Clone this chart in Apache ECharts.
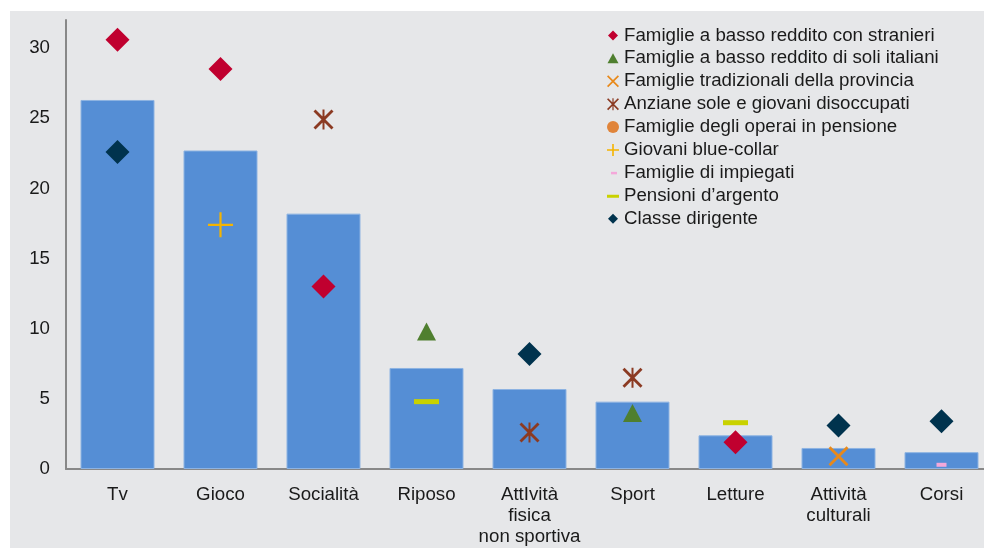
<!DOCTYPE html>
<html>
<head>
<meta charset="utf-8">
<script src="https://cdn.jsdelivr.net/npm/echarts@6/dist/echarts.min.js"></script>
<style>
html, body { margin: 0; padding: 0; background: #fff; overflow: hidden; }
#chart { width: 994px; height: 548px; }
</style>
</head>
<body>
<div id="chart"></div>
<script>
// categorie e valori
var categories = ['Tv', 'Gioco', 'Socialità', 'Riposo', 'AttIvità\nfisica\nnon sportiva', 'Sport', 'Letture', 'Attività\nculturali', 'Corsi']
var totale = [26.3, 22.7, 18.2, 7.2, 5.7, 4.8, 2.4, 1.5, 1.2]

var stranieri = [30.6, 28.5, 13.0, null, null, null, 1.9, null, null]
var soliItaliani = [null, null, null, 9.8, null, 4.0, null, null, null]
var tradizionali = [null, null, null, null, null, null, null, 0.9, null]
var anziane = [null, null, 24.9, null, 2.6, 6.5, null, null, null]
var operai = [null, null, null, null, null, null, null, null, null]
var blueCollar = [null, 17.4, null, null, null, null, null, null, null]
var impiegati = [null, null, null, null, null, null, null, null, 0.3]
var argento = [null, null, null, 4.8, null, null, 3.3, null, null]
var dirigente = [22.6, null, null, null, 8.2, null, null, 3.1, 3.4]

var yTicks = [0, 5, 10, 15, 20, 25, 30]

var xPath = 'path://M0,2 L2,0 L10,8 L18,0 L20,2 L12,10 L20,18 L18,20 L10,12 L2,20 L0,18 L8,10 Z'
var starPath = 'path://M0,2 L2,0 L10,8 L18,0 L20,2 L12,10 L20,18 L18,20 L10,12 L2,20 L0,18 L8,10 Z M9,0 L11,0 L11,20 L9,20 Z'
var plusPath = 'path://M11.5,0 h2.2 v11.5 h11.5 v2.2 h-11.5 v11.5 h-2.2 v-11.5 h-11.5 v-2.2 h11.5 Z'

var font = 'Liberation Sans'
var fs = 18.7

function scatter (name, data, color, symbol, size) {
    return {
        name: name,
        type: 'scatter',
        data: data,
        symbol: symbol,
        symbolSize: size,
        itemStyle: { color: color, opacity: 1 },
        z: 5
    }
}

var chart = echarts.init(document.getElementById('chart'))
chart.setOption({
    animation: false,
    backgroundColor: '#fff',
    graphic: [{
        type: 'rect',
        shape: { x: 10, y: 11, width: 984, height: 537 },
        style: { fill: '#E6E7E9' },
        z: -10
    }],
    grid: {
        left: 66,
        top: 20,
        right: 1,
        height: 449,
        containLabel: false
    },
    legend: {
        orient: 'vertical',
        left: 602,
        top: 19,
        itemWidth: 12,
        itemHeight: 12,
        itemGap: 0,
        textStyle: { fontFamily: font, fontSize: fs, color: '#1a1a1a', lineHeight: 22.9 },
        data: [
            { name: 'Famiglie a basso reddito con stranieri', icon: 'path://M0,0 M12,12 M6,1 L11,6 L6,11 L1,6 Z' },
            { name: 'Famiglie a basso reddito di soli italiani', icon: 'path://M0,0 M12,12 M6,1 L11.5,11 L0.5,11 Z' },
            { name: 'Famiglie tradizionali della provincia', icon: xPath },
            { name: 'Anziane sole e giovani disoccupati', icon: starPath },
            { name: 'Famiglie degli operai in pensione', icon: 'circle' },
            { name: 'Giovani blue-collar', icon: 'path://M0,0 M12,12 M5.2,0 h1.6 v5.2 h5.2 v1.6 h-5.2 v5.2 h-1.6 v-5.2 h-5.2 v-1.6 h5.2 Z' },
            { name: 'Famiglie di impiegati', icon: 'path://M0,0 M12,12 M4,5 h6 v2.5 h-6 Z' },
            { name: 'Pensioni d\u2019argento', icon: 'path://M0,0 M12,12 M0,5 h12 v3 h-12 Z' },
            { name: 'Classe dirigente', icon: 'path://M0,0 M12,12 M6,1 L11,6 L6,11 L1,6 Z' }
        ]
    },
    xAxis: {
        type: 'category',
        data: categories,
        boundaryGap: true,
        axisLine: { lineStyle: { color: '#888', width: 2 } },
        axisTick: { show: false },
        axisLabel: {
            interval: 0,
            margin: 15,
            fontFamily: font,
            fontSize: fs,
            color: '#1a1a1a',
            lineHeight: 21
        }
    },
    yAxis: {
        type: 'value',
        min: 0,
        max: 32,
        interval: 5,
        splitLine: { show: false },
        axisTick: { show: false },
        axisLine: { show: true, lineStyle: { color: '#888', width: 2 } },
        axisLabel: {
            margin: 16,
            showMaxLabel: false,
            fontFamily: font,
            fontSize: fs,
            color: '#1a1a1a',
            formatter: function (v) { return yTicks.indexOf(v) >= 0 ? v : '' }
        }
    },
    series: [
        {
            name: 'Totale',
            type: 'bar',
            data: totale,
            barWidth: 74,
            itemStyle: { color: '#558ED5', borderColor: '#8DB3E2', borderWidth: 1 },
            z: 2
        },
        scatter('Famiglie a basso reddito con stranieri', stranieri, '#C0002F', 'diamond', 24),
        scatter('Famiglie a basso reddito di soli italiani', soliItaliani, '#4F7F2F', 'triangle', [19, 18]),
        scatter('Famiglie tradizionali della provincia', tradizionali, '#E8891A', xPath, 20),
        scatter('Anziane sole e giovani disoccupati', anziane, '#8B3A22', starPath, 20),
        scatter('Famiglie degli operai in pensione', operai, '#E0843A', 'circle', 14),
        scatter('Giovani blue-collar', blueCollar, '#F5B400', plusPath, 25),
        scatter('Famiglie di impiegati', impiegati, '#F4A8DA', 'rect', [10, 4]),
        scatter('Pensioni d\u2019argento', argento, '#C9D200', 'rect', [25, 5]),
        scatter('Classe dirigente', dirigente, '#00334E', 'diamond', 24)
    ]
})
</script>
</body>
</html>
